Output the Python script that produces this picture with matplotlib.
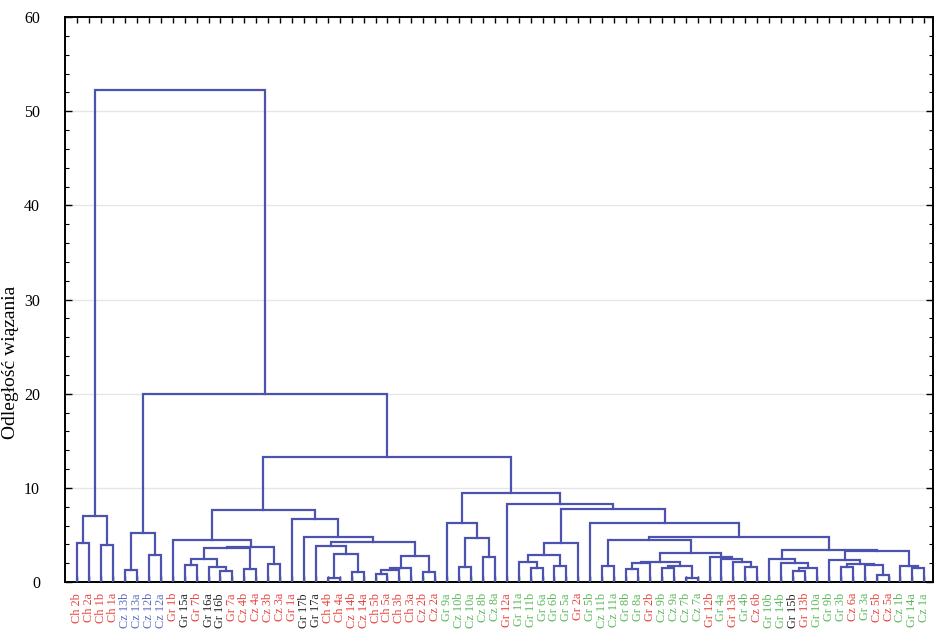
import matplotlib.pyplot as plt
from matplotlib.ticker import MultipleLocator

# leaf labels in dendrogram order
labels = [
    "Ch 2b", "Ch 2a", "Ch 1b", "Ch 1a", "Cz 13b", "Cz 13a", "Cz 12b", "Cz 12a",
    "Gr 1b", "Gr 15a", "Gr 7b", "Gr 16a", "Gr 16b", "Gr 7a", "Cz 4b", "Cz 4a",
    "Cz 3b", "Cz 3a", "Gr 1a", "Gr 17b", "Gr 17a", "Ch 4b", "Ch 4a", "Cz 14b",
    "Cz 14a", "Ch 5b", "Ch 5a", "Ch 3b", "Ch 3a", "Cz 2b", "Cz 2a", "Gr 9a",
    "Cz 10b", "Cz 10a", "Cz 8b", "Cz 8a", "Gr 12a", "Gr 11a", "Gr 11b", "Gr 6a",
    "Gr 6b", "Gr 5a", "Gr 2a", "Gr 5b", "Cz 11b", "Cz 11a", "Gr 8b", "Gr 8a",
    "Gr 2b", "Cz 9b", "Cz 9a", "Cz 7b", "Cz 7a", "Gr 12b", "Gr 4a", "Gr 13a",
    "Gr 4b", "Cz 6b", "Gr 10b", "Gr 14b", "Gr 15b", "Gr 13b", "Gr 10a", "Gr 9b",
    "Gr 3b", "Cz 6a", "Gr 3a", "Cz 5b", "Cz 5a", "Cz 1b", "Gr 14a", "Cz 1a",
]

# label colour group per leaf: R red, B blue, K black, G green
groups = list(
    "RRRR" "BBBB" "RKRKKR" "RRRRR" "KK" "RRRRRRRRRR"
    "GGGGG" "R" "GGGGG" "R" "GGGGG" "R" "GGGG" "R" "G" "R" "G" "R"
    "GG" "K" "R" "GGG" "R" "G" "RR" "GGG"
)
group_colors = {"R": "#e8423c", "B": "#5b6cc0", "K": "#222222", "G": "#5cb85c"}

# merge tree: [height, left, right], leaves are indices into labels
ch = [7.0, [4.1, 0, 1], [3.9, 2, 3]]
cz = [5.2, [1.3, 4, 5], [2.9, 6, 7]]

g1 = [4.47, 8, [3.76, [3.58, [2.41, [1.8, 9, 10], [1.56, 11, [1.2, 12, 13]]],
                       [1.43, 14, 15]], [1.9, 16, 17]]]
g2 = [6.67, 18, [4.75, 19, [4.22, [3.87, 20, [2.98, [0.46, 21, 22], [1.1, 23, 24]]],
                            [2.8, [1.5, [1.3, [0.85, 25, 26], 27], 28], [1.1, 29, 30]]]]]
left_cl = [7.66, g1, g2]

g_cl = [6.3, 31, [4.71, [1.56, 32, 33], [2.7, 34, 35]]]
e_cl = [4.11, [2.87, [2.16, 37, [1.45, 38, 39]], [1.7, 40, 41]], 42]
a1 = [2.16, [2.0, [1.35, 46, 47], 48], [1.75, [1.45, 49, 50], [0.4, 51, 52]]]
a2 = [2.7, 53, [2.4, 54, [2.1, 55, [1.6, 56, 57]]]]
c_cl = [4.5, [1.74, 44, 45], [3.1, a1, a2]]
b1 = [2.4, 58, [2.05, 59, [1.5, [1.2, 60, 61], 62]]]
b2 = [3.26, [2.3, 63, [1.95, [1.56, 64, 65], [1.8, 66, [0.74, 67, 68]]]],
      [1.7, 69, [1.45, 70, 71]]]
f_cl = [6.24, 43, [4.82, c_cl, [3.4, b1, b2]]]
right_cl = [9.5, g_cl, [8.26, 36, [7.73, e_cl, f_cl]]]

root = [52.3, ch, [20.0, cz, [13.3, left_cl, right_cl]]]

line_color = "#4b52b0"


def draw_node(ax, node):
    if isinstance(node, int):
        return float(node), 0.0
    h, left, right = node
    xl, hl = draw_node(ax, left)
    xr, hr = draw_node(ax, right)
    ax.plot([xl, xl, xr, xr], [hl, h, h, hr],
            color=line_color, lw=1.6, solid_joinstyle="miter", zorder=3)
    return (xl + xr) / 2, h


plt.rcParams["font.family"] = ["Liberation Serif", "DejaVu Serif"]

fig = plt.figure(figsize=(9.36, 6.32), dpi=100)
ax = fig.add_axes([65 / 936, 50 / 632, 868 / 936, 565 / 632])

draw_node(ax, root)

n = len(labels)
ax.set_xlim(-1.03, n - 1 + 0.73)
ax.set_ylim(0, 60)

ax.set_yticks(range(0, 61, 10))
ax.yaxis.set_minor_locator(MultipleLocator(2))
ax.set_xticks(range(n))
ax.set_xticklabels(labels, rotation=90, fontsize=8.8)
for tl, g in zip(ax.get_xticklabels(), groups):
    tl.set_color(group_colors[g])

ax.tick_params(axis="y", which="major", direction="in", length=5, width=1,
               labelsize=11.5, right=True, pad=18)
ax.tick_params(axis="y", which="minor", direction="in", length=3, width=0.8,
               right=True)
ax.tick_params(axis="x", direction="in", length=4, width=1, top=True, pad=8)

ax.grid(axis="y", color="#e6e6e6", lw=1, zorder=0)
ax.set_axisbelow(True)
for sp in ax.spines.values():
    sp.set_linewidth(1.4)

ax.set_ylabel("Odległość wiązania", fontsize=14)
ax.yaxis.set_label_coords(-0.0525, 0.389)

fig.savefig("out.png", dpi=100)
